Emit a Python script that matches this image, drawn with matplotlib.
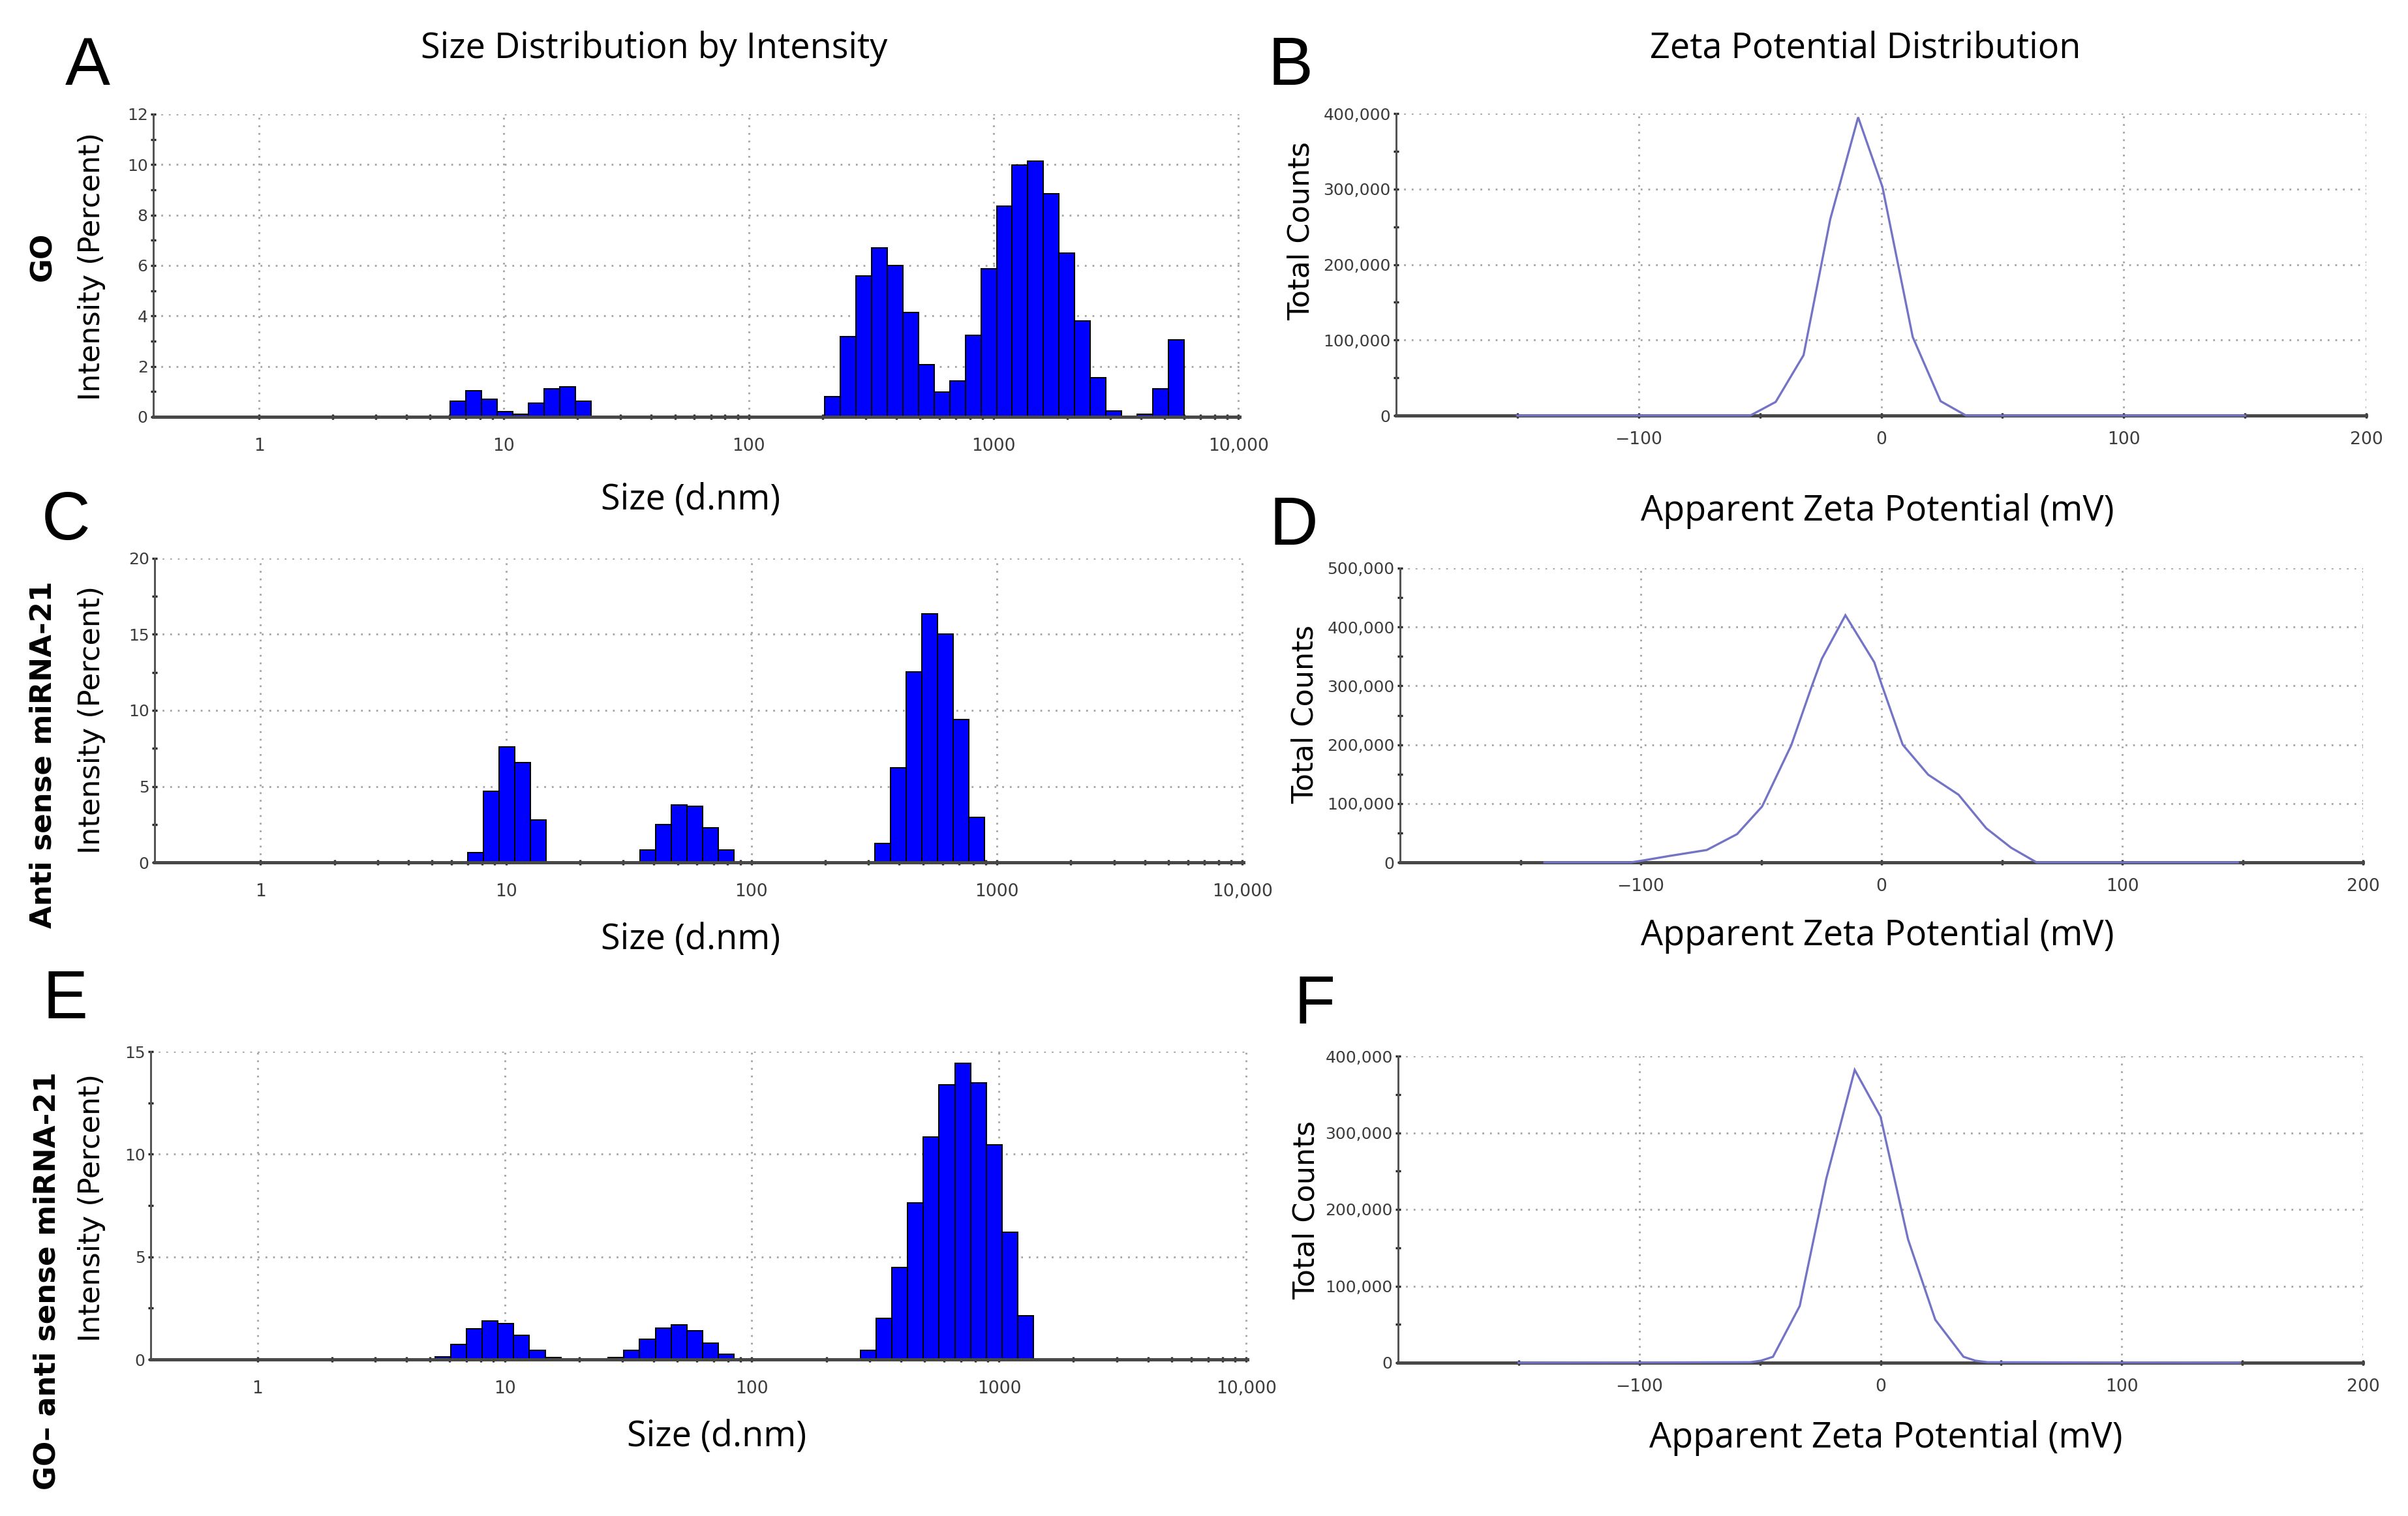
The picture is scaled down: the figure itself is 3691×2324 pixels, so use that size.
import numpy as np
import matplotlib
matplotlib.use("Agg")
import matplotlib.pyplot as plt
from matplotlib.ticker import FixedLocator, MultipleLocator, FuncFormatter

# ---------------- data ----------------
size_classes = [0.4000, 0.4632, 0.5365, 0.6213, 0.7195, 0.8332, 0.9649, 1.117, 1.294, 1.499,
                1.736, 2.010, 2.328, 2.696, 3.122, 3.615, 4.187, 4.849, 5.615, 6.503,
                7.531, 8.721, 10.10, 11.70, 13.54, 15.69, 18.17, 21.04, 24.36, 28.21,
                32.67, 37.84, 43.82, 50.75, 58.77, 68.06, 78.82, 91.28, 105.7, 122.4,
                141.8, 164.2, 190.1, 220.2, 255.0, 295.3, 342.0, 396.1, 458.7, 531.2,
                615.1, 712.4, 825.0, 955.4, 1106, 1281, 1484, 1718, 1990, 2305,
                2669, 3091, 3580, 4145, 4801, 5560, 6439, 7456, 8635, 10000]

go_intensity = ([0] * 19
                + [0.61, 1.03, 0.70, 0.20, 0.10, 0.54, 1.12, 1.20, 0.61]
                + [0] * 15
                + [0.80, 3.17, 5.58, 6.70, 6.00, 4.13, 2.06, 0.99, 1.42, 3.23, 5.87, 8.35,
                   9.97, 10.13, 8.85, 6.50, 3.79, 1.56, 0.24, 0.00, 0.10, 1.12, 3.05]
                + [0] * 4)

asm_intensity = ([0] * 20
                 + [0.63, 4.69, 7.60, 6.56, 2.81]
                 + [0] * 6
                 + [0.83, 2.50, 3.79, 3.71, 2.29, 0.83]
                 + [0] * 9
                 + [1.25, 6.21, 12.54, 16.35, 15.04, 9.38, 2.96]
                 + [0] * 17)

goasm_intensity = ([0] * 18
                   + [0.12, 0.72, 1.49, 1.88, 1.74, 1.18, 0.46, 0.10]
                   + [0] * 3
                   + [0.09, 0.46, 1.00, 1.52, 1.69, 1.40, 0.80, 0.24]
                   + [0] * 8
                   + [0.46, 2.00, 4.48, 7.64, 10.84, 13.37, 14.44, 13.49, 10.46, 6.19, 2.14]
                   + [0] * 14)

zeta_go_mv = [-150, -54, -43.5, -32, -21, -9.5, 0.5, 13, 24.5, 35, 150]
zeta_go_counts = [0, 0, 18000, 80000, 260000, 395000, 303000, 104000, 19000, 0, 0]

zeta_asm_mv = [-140, -104, -100, -88, -72.6, -60, -49.6, -37.5, -29, -24.8, -15, -3, 0,
               8.8, 19.4, 32, 43.5, 53.8, 64.4, 148]
zeta_asm_counts = [0, 0, 2600, 11000, 21000, 48000, 95000, 199000, 299000, 346000, 420000,
                   340000, 303000, 200000, 149000, 115000, 58000, 25000, 0, 0]

zeta_goasm_mv = [-150, -54, -49.6, -44.6, -33.5, -22.5, -10.7, 0, 11.4, 22.7, 34.4, 39.4, 44.4, 149]
zeta_goasm_counts = [0, 600, 2600, 7700, 74000, 240000, 382000, 321000, 161000, 56000,
                     7700, 2600, 600, 0]

size_ticks = [1, 10, 100, 1000, 10000]
size_tick_labels = ["1", "10", "100", "1000", "10,000"]
zeta_ticks = [-100, 0, 100, 200]
zeta_tick_labels = ["\u2212100", "0", "100", "200"]

# ---------------- figure ----------------
W, H = 3691, 2324
DPI = 240
fig = plt.figure(figsize=(W / DPI, H / DPI), dpi=DPI)
fig.patch.set_facecolor("white")

TICK_COLOR = "#3c3c3c"
GRID_KW = dict(color="#a8a8a8", linewidth=0.9, linestyle=(0, (0.9, 3.0)))


def add_ax(x0, y0, x1, y1):
    return fig.add_axes([x0 / W, 1 - y1 / H, (x1 - x0) / W, (y1 - y0) / H])


def ftext(x, y, s, **kw):
    return fig.text(x / W, 1 - y / H, s, **kw)


def style_common(ax):
    for side in ("top", "right"):
        ax.spines[side].set_visible(False)
    ax.spines["left"].set_color("#555555")
    ax.spines["left"].set_linewidth(0.9)
    ax.spines["bottom"].set_color("#484848")
    ax.spines["bottom"].set_linewidth(1.5)
    ax.tick_params(axis="both", which="both", direction="inout", length=2.6, width=1.0,
                   color="#222222", labelcolor=TICK_COLOR)
    ax.tick_params(axis="x", labelsize=8.0)
    ax.tick_params(axis="y", which="both", pad=1.2, labelsize=7.5)
    ax.set_facecolor("white")


def size_panel(box, values, ymax, ymajor, yminor):
    ax = add_ax(*box)
    style_common(ax)
    s = np.log10(np.array(size_classes))
    mids = (s[:-1] + s[1:]) / 2
    edges = np.concatenate([[2 * s[0] - mids[0]], mids, [2 * s[-1] - mids[-1]]])
    left = 10 ** edges[:-1]
    right = 10 ** edges[1:]
    v = np.array(values, dtype=float)
    m = v > 0
    ax.bar(left[m], v[m], width=(right - left)[m], align="edge", color="#0000ff",
           edgecolor="black", linewidth=0.6, zorder=2)
    ax.set_xscale("log")
    ax.set_xlim(0.37, 10100)
    ax.set_ylim(0, ymax)
    ax.xaxis.set_major_locator(FixedLocator(size_ticks))
    ax.xaxis.set_major_formatter(FuncFormatter(
        lambda x, p: size_tick_labels[size_ticks.index(int(round(x)))] if int(round(x)) in size_ticks else ""))
    minors = [m_ * 10 ** d for d in range(0, 4) for m_ in range(2, 10)]
    ax.xaxis.set_minor_locator(FixedLocator(minors))
    ax.xaxis.set_minor_formatter(FuncFormatter(lambda x, p: ""))
    ax.yaxis.set_major_locator(MultipleLocator(ymajor))
    ax.yaxis.set_minor_locator(MultipleLocator(yminor))
    ax.yaxis.set_major_formatter(FuncFormatter(lambda y, p: f"{y:g}"))
    ax.tick_params(axis="x", which="both", pad=8.2)
    ax.grid(True, which="major", axis="both", **GRID_KW)
    ax.set_axisbelow(True)
    return ax


def zeta_panel(box, mv, counts, ymax):
    ax = add_ax(*box)
    style_common(ax)
    ax.plot(mv, counts, color="#7474c6", linewidth=1.0, zorder=4, clip_on=False,
            solid_joinstyle="miter")
    ax.set_xlim(-200, 200)
    ax.set_ylim(0, ymax)
    ax.xaxis.set_major_locator(FixedLocator(zeta_ticks))
    ax.xaxis.set_major_formatter(FuncFormatter(
        lambda x, p: zeta_tick_labels[zeta_ticks.index(int(round(x)))] if int(round(x)) in zeta_ticks else ""))
    ax.xaxis.set_minor_locator(FixedLocator([-150, -50, 50, 150]))
    ax.yaxis.set_major_locator(MultipleLocator(100000))
    ax.yaxis.set_minor_locator(MultipleLocator(50000))
    ax.yaxis.set_major_formatter(FuncFormatter(lambda y, p: f"{int(round(y)):,}"))
    ax.tick_params(axis="x", which="both", pad=6.0)
    ax.grid(True, which="major", axis="both", **GRID_KW)
    ax.set_axisbelow(True)
    return ax


axA = size_panel((235, 175, 1900, 639), go_intensity, 12, 2, 1)
axC = size_panel((237, 856, 1906, 1322), asm_intensity, 20, 5, 2.5)
axE = size_panel((231, 1612, 1912, 2084), goasm_intensity, 15, 5, 2.5)

axB = zeta_panel((2140, 174, 3627, 637), zeta_go_mv, zeta_go_counts, 400000)
axD = zeta_panel((2146, 871, 3622, 1322), zeta_asm_mv, zeta_asm_counts, 500000)
axF = zeta_panel((2143, 1619, 3622, 2089), zeta_goasm_mv, zeta_goasm_counts, 400000)

# ---------------- texts ----------------
LBL = dict(family="Open Sans", fontsize=16.2, color="black", ha="center", va="center")
ftext(1003, 74, "Size Distribution by Intensity", **LBL)
ftext(2859, 74, "Zeta Potential Distribution", **LBL)
ftext(1059, 766, "Size (d.nm)", **LBL)
ftext(2878, 783, "Apparent Zeta Potential (mV)", **LBL)
ftext(1059, 1440, "Size (d.nm)", **LBL)
ftext(2878, 1434, "Apparent Zeta Potential (mV)", **LBL)
ftext(1099, 2203, "Size (d.nm)", **LBL)
ftext(2891, 2204, "Apparent Zeta Potential (mV)", **LBL)

YL = dict(family="DejaVu Sans", fontsize=13.4, color="black", ha="center", va="center",
          rotation=90)
ftext(140, 408, "Intensity (Percent)", **YL)
ftext(140, 1103, "Intensity (Percent)", **YL)
ftext(140, 1851, "Intensity (Percent)", **YL)
ftext(1994, 354, "Total Counts", **YL)
ftext(2000, 1095, "Total Counts", **YL)
ftext(2002, 1855, "Total Counts", **YL)

SL = dict(family="DejaVu Sans", fontsize=13.5, fontweight="bold", color="black",
          ha="center", va="center", rotation=90)
ftext(66, 393, "GO", **SL)
ftext(66, 1157, "Anti sense miRNA-21", **SL)
ftext(72, 1964, "GO\u2013 anti sense miRNA-21", **SL)

PL = dict(family="Liberation Sans", fontsize=31, color="black", ha="left", va="baseline")
ftext(100, 130, "A", **PL)
ftext(1944, 130, "B", **PL)
ftext(64, 827, "C", **PL)
ftext(1946, 835, "D", **PL)
ftext(66, 1561, "E", **PL)
ftext(1983, 1569, "F", **PL)

fig.savefig("out.png", dpi=DPI, facecolor="white")
